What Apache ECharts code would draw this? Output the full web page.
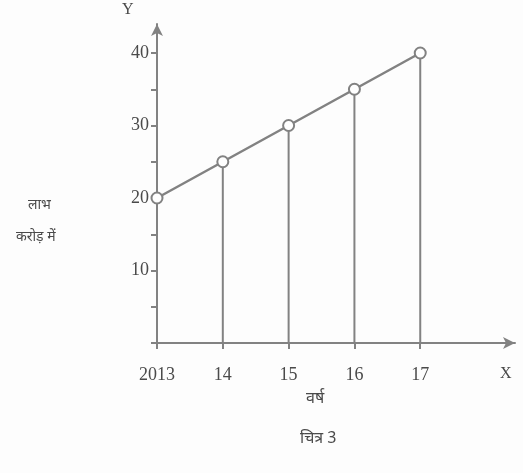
<!DOCTYPE html>
<html><head><meta charset="utf-8">
<script src="https://cdn.jsdelivr.net/npm/echarts@6/dist/echarts.min.js"></script>
<style>html,body{margin:0;padding:0;background:#fff}#c{width:523px;height:473px}</style>
</head><body><div id="c"></div>
<script>
const years = [2013, 2014, 2015, 2016, 2017];
const yearLabels = ['2013', '14', '15', '16', '17'];
const values = [20, 25, 30, 35, 40];
const yTickValues = [0, 5, 10, 15, 20, 25, 30, 35, 40];
const yLabelValues = [10, 20, 30, 40];

const grey = '#828282';
const txt = '#4a4a4a';
const font = 'Liberation Serif';

const dropSeries = years.map((yr, i) => ({
  type: 'line', data: [[yr, 0], [yr, values[i]]], symbol: 'none', silent: true,
  lineStyle: { color: grey, width: 2 }, z: 1
}));

const chart = echarts.init(document.getElementById('c'), null, { renderer: 'canvas' });
chart.setOption({
  backgroundColor: '#fdfdfd',
  animation: false,
  grid: { left: 157, right: 8, top: 24, bottom: 130 },
  xAxis: {
    type: 'value', min: 2013, max: 2018.44,
    axisLine: { lineStyle: { color: grey, width: 2 }, symbol: ['none', 'arrow'], symbolSize: [9, 12] },
    axisTick: { show: true, customValues: years, length: 6, inside: false, lineStyle: { color: grey, width: 2 } },
    axisLabel: { customValues: years, formatter: v => yearLabels[years.indexOf(v)] || '', color: txt, fontFamily: font, fontSize: 18, margin: 23 },
    splitLine: { show: false }
  },
  yAxis: {
    type: 'value', min: 0, max: 44,
    axisLine: { show: true, lineStyle: { color: grey, width: 2 }, symbol: ['none', 'arrow'], symbolSize: [9, 12] },
    axisTick: { show: true, customValues: yTickValues, length: 6, inside: false, lineStyle: { color: grey, width: 2 } },
    axisLabel: { customValues: yLabelValues, color: txt, fontFamily: font, fontSize: 18, margin: 8 },
    splitLine: { show: false }
  },
  graphic: [
    { type: 'text', left: 122, top: 2, style: { text: 'Y', fill: txt, fontSize: 16, fontFamily: font } },
    { type: 'text', left: 500, top: 366, style: { text: 'X', fill: txt, fontSize: 16, fontFamily: font } },
    { type: 'text', left: 28, top: 198, style: { text: 'लाभ', fill: txt, fontSize: 14, fontFamily: 'Noto Sans' } },
    { type: 'text', left: 16, top: 230, style: { text: 'करोड़ में', fill: txt, fontSize: 14, fontFamily: 'Noto Sans' } },
    { type: 'text', left: 306, top: 390, style: { text: 'वर्ष', fill: txt, fontSize: 16, fontFamily: 'Noto Sans' } },
    { type: 'text', left: 300, top: 430, style: { text: 'चित्र 3', fill: txt, fontSize: 16, fontFamily: 'Noto Sans' } }
  ],
  series: dropSeries.concat([{
    type: 'line', data: years.map((y, i) => [y, values[i]]),
    symbol: 'circle', symbolSize: 11, showSymbol: true,
    itemStyle: { color: '#fff', borderColor: grey, borderWidth: 2 },
    lineStyle: { color: grey, width: 2.5 }, z: 3
  }])
});
</script></body></html>
